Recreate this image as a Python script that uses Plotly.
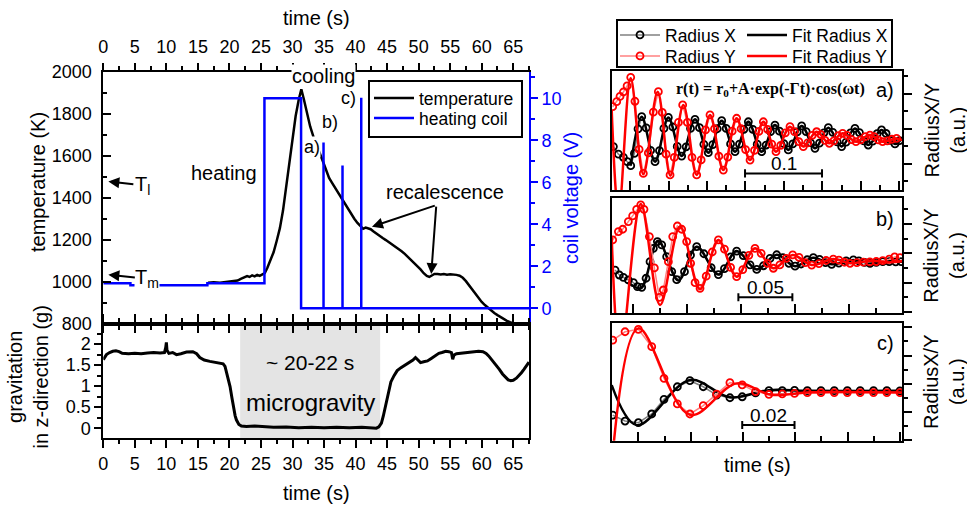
import plotly.graph_objects as go

W, H = 967, 505
SANS = "Liberation Sans, Arial, sans-serif"
SERIF = "Liberation Serif, Times New Roman, serif"

# ---------------- left panels: data ----------------
temp_time = [16.6, 17.5, 18.5, 19.5, 20.5, 21.3, 21.8, 22.3, 22.8, 23.2, 23.6, 24.0, 24.4, 24.8, 25.2, 25.6,
             26.0, 26.5, 27.0, 27.5, 28.0, 28.5, 29.0, 29.5, 30.0, 30.5, 31.0, 31.4, 31.8, 32.3, 32.8, 33.3,
             33.8, 34.3, 34.8, 35.3, 35.8, 36.3, 36.8, 37.3, 37.8, 38.3, 38.8, 39.3, 39.8, 40.3, 40.8, 41.2,
             41.6, 42.0, 42.4, 42.8, 43.3, 43.8, 44.3, 44.8, 45.3, 45.8, 46.3, 46.8, 47.3, 47.8, 48.3, 48.8,
             49.3, 49.8, 50.3, 50.8, 51.3, 51.7, 52.1, 52.5, 53.0, 53.5, 54.0, 54.5, 55.0, 55.5, 56.0, 56.5,
             57.0, 57.5, 58.0, 58.5, 59.0, 59.5, 60.0, 60.5, 61.0, 61.5, 62.0, 62.5, 63.0, 63.5, 64.0, 64.5,
             65.0, 65.3]
temp_K = [995, 997, 995, 998, 1000, 1005, 1013, 1020, 1026, 1022, 1030, 1025, 1032, 1027, 1033, 1040,
          1065, 1100, 1140, 1195, 1255, 1340, 1450, 1570, 1690, 1790, 1870, 1918, 1870, 1800, 1740, 1693,
          1650, 1610, 1575, 1535, 1495, 1470, 1445, 1420, 1395, 1368, 1345, 1320, 1300, 1280, 1262, 1252,
          1258, 1255, 1250, 1240, 1228, 1218, 1208, 1198, 1188, 1175, 1165, 1155, 1145, 1132, 1118, 1104,
          1090, 1074, 1058, 1040, 1027, 1022, 1028, 1036, 1036, 1034, 1036, 1033, 1035, 1034, 1032, 1028,
          1018, 1002, 982, 958, 938, 920, 903, 888, 874, 862, 850, 840, 830, 821, 813, 806,
          800, 796]

coil_time = [0, 4.3, 4.3, 16.5, 16.5, 25.55, 25.55, 31.36, 31.36, 34.92, 34.92, 34.92, 37.93, 37.93, 37.93,
             40.9, 40.9, 40.9, 67.5]
coil_V = [1.19, 1.19, 1.1, 1.1, 1.19, 1.19, 10.0, 10.0, 0.0, 0.0, 7.9, 0.0, 0.0, 6.8, 0.0,
          0.0, 10.03, 0.0, 0.0]

grav_time = [0.0, 0.5, 1.0, 1.5, 2.0, 2.5, 3.0, 4.0, 5.0, 6.0, 7.0, 8.0, 9.0, 9.7, 9.9, 10.0, 10.1, 10.4,
             11.0, 11.6, 12.3, 13.2, 14.2, 14.8, 15.3, 16.0, 16.9, 17.7, 18.5, 19.0, 19.3, 19.6, 19.9, 20.1,
             20.4, 20.6, 20.9, 21.1, 21.5, 21.9, 22.7, 24.0, 25.5, 27.0, 29.0, 31.0, 33.0, 35.0, 37.0, 39.0,
             41.0, 42.5, 43.3, 43.7, 44.1, 44.4, 44.8, 45.2, 45.6, 46.1, 46.6, 47.2, 47.9, 48.6, 49.1, 49.5,
             49.9, 50.3, 50.8, 51.4, 52.0, 52.6, 53.2, 53.7, 54.3, 54.8, 55.2, 55.4, 55.6, 56.0, 57.1, 58.0,
             58.8, 59.5, 60.2, 60.7, 61.1, 61.6, 62.2, 62.8, 63.3, 63.8, 64.2, 64.6, 65.0, 65.5, 65.9, 66.3,
             66.7, 67.1, 67.5]
grav_g = [1.63, 1.75, 1.80, 1.83, 1.84, 1.82, 1.78, 1.77, 1.78, 1.77, 1.79, 1.80, 1.79, 1.80, 1.92, 2.04, 1.85, 1.78,
          1.80, 1.75, 1.77, 1.81, 1.82, 1.77, 1.68, 1.62, 1.59, 1.57, 1.55, 1.53, 1.47, 1.30, 1.10, 0.99,
          0.72, 0.51, 0.30, 0.20, 0.09, 0.05, 0.04, 0.05, 0.03, 0.02, 0.03, 0.01, 0.02, 0.01, 0.02, 0.01,
          0.02, 0.01, 0.00, 0.03, 0.12, 0.29, 0.58, 0.85, 1.10, 1.25, 1.37, 1.44, 1.51, 1.56, 1.62, 1.68,
          1.62, 1.56, 1.58, 1.60, 1.66, 1.72, 1.78, 1.80, 1.83, 1.82, 1.80, 1.64, 1.74, 1.77, 1.79, 1.81,
          1.83, 1.83, 1.82, 1.78, 1.72, 1.63, 1.52, 1.40, 1.29, 1.20, 1.15, 1.13, 1.14, 1.19, 1.25, 1.32,
          1.40, 1.50, 1.57]

micro_window = [21.7, 43.9]
T_liquidus = 1478
T_melt = 1033

# ---------------- right panels: data (time in s, radius in a.u.) ----------------
a_rx_t = [0.0022, 0.0087, 0.0152, 0.0203, 0.0247, 0.0295, 0.0342, 0.0390, 0.0448, 0.0505, 0.0563, 0.0621,
          0.0678, 0.0736, 0.0794, 0.0851, 0.0909, 0.0967, 0.1024, 0.1082, 0.1140, 0.1197, 0.1255, 0.1313,
          0.1371, 0.1429, 0.1487, 0.1544, 0.1602, 0.1660, 0.1717, 0.1775, 0.1833, 0.1890, 0.1948, 0.2006,
          0.2063, 0.2121, 0.2179, 0.2236, 0.2294, 0.2352, 0.2410, 0.2468, 0.2526, 0.2583, 0.2641, 0.2699,
          0.2756, 0.2814, 0.2872, 0.2929, 0.2987, 0.3045, 0.3102, 0.3160, 0.3218, 0.3275, 0.3333, 0.3391,
          0.3448, 0.3506, 0.3564, 0.3622, 0.3680, 0.3738]
a_rx = [1.98, 1.55, 1.37, 1.12, 0.89, 1.59, 2.99, 3.69, 3.05, 1.76, 1.12, 1.75,
        3.02, 3.65, 3.10, 1.99, 1.44, 1.97, 3.02, 3.54, 3.06, 2.11, 1.63, 2.09,
        3.00, 3.46, 3.02, 2.13, 1.69, 2.12, 2.97, 3.40, 2.97, 2.12, 1.69, 2.07,
        2.83, 3.21, 2.86, 2.15, 1.79, 2.13, 2.82, 3.16, 2.84, 2.20, 1.88, 2.18,
        2.77, 3.06, 2.79, 2.25, 1.98, 2.24, 2.76, 3.02, 2.78, 2.31, 2.07, 2.29,
        2.72, 2.93, 2.73, 2.33, 2.13, 2.32]
a_ry_t = [0.0013, 0.0065, 0.0108, 0.0152, 0.0200, 0.0247, 0.0302, 0.0356, 0.0411, 0.0476, 0.0541, 0.0606,
          0.0657, 0.0707, 0.0758, 0.0813, 0.0867, 0.0922, 0.0983, 0.1043, 0.1104, 0.1162, 0.1219, 0.1277,
          0.1335, 0.1392, 0.1450, 0.1508, 0.1565, 0.1623, 0.1681, 0.1739, 0.1797, 0.1855, 0.1912, 0.1970,
          0.2025, 0.2079, 0.2134, 0.2195, 0.2255, 0.2316, 0.2374, 0.2431, 0.2489, 0.2547, 0.2604, 0.2662,
          0.2717, 0.2772, 0.2827, 0.2885, 0.2942, 0.3000, 0.3058, 0.3115, 0.3173, 0.3234, 0.3294, 0.3355,
          0.3410, 0.3464, 0.3519, 0.3580, 0.3640, 0.3701]
a_ry = [4.26, 4.55, 4.85, 5.10, 5.45, 5.94, 4.57, 1.82, 0.45, 1.62, 3.95, 5.12,
        3.93, 1.55, 0.36, 1.36, 3.36, 4.36, 3.36, 1.36, 0.36, 1.22, 2.93, 3.79,
        3.00, 1.43, 0.64, 1.38, 2.86, 3.60, 3.00, 1.81, 1.21, 1.76, 2.85, 3.40,
        2.97, 2.12, 1.69, 2.05, 2.76, 3.12, 2.84, 2.27, 1.98, 2.19, 2.62, 2.83,
        2.67, 2.33, 2.17, 2.31, 2.60, 2.74, 2.62, 2.38, 2.26, 2.36, 2.55, 2.64,
        2.55, 2.36, 2.26, 2.31, 2.40, 2.45]
a_fx_t = [0.0247, 0.0390, 0.0563, 0.0736, 0.0909, 0.1082, 0.1255, 0.1429, 0.1602, 0.1775, 0.1948, 0.2121,
          0.2294, 0.2468, 0.2641, 0.2814, 0.2987, 0.3160, 0.3333, 0.3506, 0.3680, 0.3775]
a_fx = [0.89, 3.69, 1.12, 3.65, 1.44, 3.54, 1.63, 3.46, 1.69, 3.40, 1.69, 3.21,
        1.79, 3.16, 1.88, 3.06, 1.98, 3.02, 2.07, 2.93, 2.13, 2.50]
a_fy_t = [0.0, 0.0091, 0.0247, 0.0411, 0.0597, 0.0762, 0.0931, 0.1104, 0.1277, 0.1450, 0.1623, 0.1797,
          0.1970, 0.2134, 0.2316, 0.2489, 0.2662, 0.2827, 0.3000, 0.3173, 0.3355, 0.3519, 0.3701, 0.3775]
a_fy = [4.07, -1.83, 5.88, 0.40, 5.12, 0.32, 4.36, 0.36, 3.79, 0.64, 3.60, 1.21,
        3.40, 1.69, 3.12, 1.98, 2.83, 2.17, 2.74, 2.26, 2.64, 2.26, 2.45, 2.35]

b_rx_t = [0.0031, 0.0071, 0.0108, 0.0154, 0.0201, 0.0238, 0.0278, 0.0318, 0.0355, 0.0386, 0.0423, 0.0463,
          0.0509, 0.0556, 0.0602, 0.0674, 0.0730, 0.0787, 0.0854, 0.0921, 0.0988, 0.1044, 0.1101, 0.1157,
          0.1219, 0.1281, 0.1343, 0.1405, 0.1466, 0.1528, 0.1585, 0.1641, 0.1698, 0.1754, 0.1810, 0.1867,
          0.1924, 0.1980, 0.2037, 0.2104, 0.2171, 0.2238, 0.2289, 0.2341, 0.2392, 0.2450, 0.2510, 0.2570,
          0.2630, 0.2680]
b_rx = [2.86, 2.52, 2.36, 2.18, 2.00, 1.73, 1.68, 2.30, 3.43, 4.34, 4.80, 4.57,
        3.77, 2.75, 2.20, 2.75, 3.88, 4.45, 3.97, 3.03, 2.55, 2.95, 3.75, 4.15,
        3.84, 3.21, 2.90, 3.15, 3.65, 3.90, 3.71, 3.32, 3.12, 3.27, 3.56, 3.70,
        3.59, 3.36, 3.25, 3.33, 3.48, 3.55, 3.49, 3.38, 3.32, 3.38, 3.43, 3.43,
        3.42, 3.43]
b_ry_t = [0.0009, 0.0062, 0.0102, 0.0154, 0.0194, 0.0231, 0.0269, 0.0299, 0.0349, 0.0395, 0.0441, 0.0478,
          0.0525, 0.0565, 0.0608, 0.0648, 0.0694, 0.0731, 0.0772, 0.0818, 0.0875, 0.0931, 0.0988, 0.1044,
          0.1101, 0.1157, 0.1214, 0.1270, 0.1327, 0.1384, 0.1440, 0.1497, 0.1557, 0.1616, 0.1676, 0.1735,
          0.1793, 0.1852, 0.1919, 0.1985, 0.2052, 0.2104, 0.2155, 0.2207, 0.2270, 0.2330, 0.2390, 0.2450,
          0.2510, 0.2570, 0.2620, 0.2670]
b_ry = [4.91, 5.48, 5.64, 6.16, 6.55, 7.00, 7.30, 7.00, 5.14, 3.00, 1.00, 1.50,
        3.43, 5.14, 5.86, 5.64, 4.80, 3.32, 2.00, 1.61, 2.44, 4.09, 4.91, 4.29,
        3.04, 2.41, 2.89, 3.86, 4.34, 4.00, 3.32, 2.98, 3.21, 3.66, 3.89, 3.72,
        3.37, 3.20, 3.30, 3.51, 3.61, 3.54, 3.39, 3.32, 3.36, 3.40, 3.42, 3.44,
        3.50, 3.60, 3.75, 3.70]
b_fx_t = [0.0150, 0.0270, 0.0430, 0.0617, 0.0787, 0.0988, 0.1157, 0.1343, 0.1528, 0.1698, 0.1867, 0.2037,
          0.2238, 0.2392, 0.2550, 0.2691]
b_fx = [2.05, 1.62, 4.85, 2.15, 4.45, 2.55, 4.15, 2.90, 3.90, 3.12, 3.70, 3.25, 3.55, 3.32, 3.45, 3.42]
b_fy_t = [0.0000, 0.0080, 0.0269, 0.0448, 0.0633, 0.0818, 0.0988, 0.1157, 0.1327, 0.1497, 0.1676, 0.1852,
          0.2052, 0.2207, 0.2400, 0.2560, 0.2691]
b_fy = [5.10, -3.00, 7.36, 0.48, 5.82, 1.55, 4.91, 2.41, 4.34, 2.98, 3.89, 3.20, 3.61, 3.32, 3.50, 3.38, 3.45]

c_t = [0.0004, 0.0051, 0.0102, 0.0153, 0.0200, 0.0251, 0.0299, 0.0350, 0.0401, 0.0452, 0.0499, 0.0550,
       0.0601, 0.0652, 0.0699, 0.0748, 0.0800, 0.0851, 0.0901, 0.0950, 0.1001, 0.1052, 0.1102]
c_rx = [1.78, 1.36, 1.24, 1.86, 2.90, 3.79, 4.22, 3.79, 3.20, 3.01, 3.08, 3.35,
        3.51, 3.51, 3.53, 3.52, 3.51, 3.51, 3.51, 3.51, 3.51, 3.51, 3.50]
c_ry = [7.10, 7.69, 7.86, 6.63, 4.39, 2.57, 1.86, 2.45, 3.27, 4.08, 3.92, 3.45,
        3.25, 3.28, 3.32, 3.37, 3.38, 3.38, 3.38, 3.38, 3.38, 3.38, 3.38]
c_fx_t = [0.0000, 0.0096, 0.0299, 0.0452, 0.0600, 0.0750, 0.1111]
c_fx = [3.91, 1.07, 4.27, 3.04, 3.55, 3.50, 3.50]
c_fy_t = [0.0008, 0.0102, 0.0299, 0.0478, 0.0610, 0.0760, 0.1111]
c_fy = [-0.20, 7.93, 1.80, 4.03, 3.22, 3.40, 3.38]

# scale bars: (start time, length, label)
scale_a = (0.1732, 0.1, "0.1")
scale_b = (0.1173, 0.05, "0.05")
scale_c = (0.0499, 0.02, "0.02")


def fx(p):
    return p / W


def fy(p):
    return 1 - p / H


fig = go.Figure()

# ---------------- left traces ----------------
fig.add_trace(go.Scatter(x=temp_time, y=temp_K, mode="lines", name="temperature",
                         line=dict(color="black", width=2.5), xaxis="x", yaxis="y", legend="legend"))
fig.add_trace(go.Scatter(x=coil_time, y=coil_V, mode="lines", name="heating coil",
                         line=dict(color="#0000ff", width=2.5), xaxis="x", yaxis="y2", legend="legend4"))
fig.add_trace(go.Scatter(x=grav_time, y=grav_g, mode="lines", showlegend=False,
                         line=dict(color="black", width=3), xaxis="x2", yaxis="y3"))

# ---------------- right traces ----------------
panels = [
    ("x3", "y4", a_rx_t, a_rx, a_ry_t, a_ry, a_fx_t, a_fx, a_fy_t, a_fy),
    ("x4", "y5", b_rx_t, b_rx, b_ry_t, b_ry, b_fx_t, b_fx, b_fy_t, b_fy),
    ("x5", "y6", c_t, c_rx, c_t, c_ry, c_fx_t, c_fx, c_fy_t, c_fy),
]
for i, (xa, ya, rxt, rx, ryt, ry, fxt, fxv, fyt, fyv) in enumerate(panels):
    show = i == 0
    fig.add_trace(go.Scatter(x=rxt, y=rx, mode="lines+markers", name="Radius X", showlegend=show,
                             line=dict(color="#808080", width=1.5),
                             marker=dict(symbol="circle-open", size=7, color="black", line=dict(width=1.8)),
                             xaxis=xa, yaxis=ya, legend="legend2"))
    fig.add_trace(go.Scatter(x=fxt, y=fxv, mode="lines", name="Fit Radius X", showlegend=show,
                             line=dict(color="black", width=2.5, shape="spline", smoothing=1.0),
                             xaxis=xa, yaxis=ya, legend="legend5"))
    fig.add_trace(go.Scatter(x=ryt, y=ry, mode="lines+markers", name="Radius Y", showlegend=show,
                             line=dict(color="#ff8080", width=1.5),
                             marker=dict(symbol="circle-open", size=7, color="#ff0000", line=dict(width=1.8)),
                             xaxis=xa, yaxis=ya, legend="legend3"))
    fig.add_trace(go.Scatter(x=fyt, y=fyv, mode="lines", name="Fit Radius Y", showlegend=show,
                             line=dict(color="#ff0000", width=2.5, shape="spline", smoothing=1.0),
                             xaxis=xa, yaxis=ya, legend="legend6"))

# ---------------- axes ----------------
base = dict(showline=True, linecolor="black", linewidth=2, showgrid=False, zeroline=False,
            automargin=False, tickcolor="black", tickwidth=2,
            tickfont=dict(size=18, family=SANS, color="black"))

LX = [fx(103.3), fx(529)]
layout = dict(
    width=W, height=H, margin=dict(l=0, r=0, t=0, b=0, autoexpand=False),
    paper_bgcolor="white", plot_bgcolor="rgba(0,0,0,0)",
    font=dict(family=SANS, size=18, color="black"),
    xaxis=dict(base, domain=LX, anchor="y", side="top", range=[0, 67.5], tick0=0, dtick=5,
               ticks="outside", ticklen=7, mirror="ticks", ticklabelstandoff=3,
               minor=dict(tick0=0, dtick=2.5, ticks="outside", ticklen=4, tickwidth=2, tickcolor="black")),
    yaxis=dict(base, domain=[fy(323.5), fy(72)], anchor="x", range=[800, 2000], tick0=800, dtick=200,
               ticks="inside", ticklen=8, ticklabelstandoff=6,
               minor=dict(dtick=100, ticks="inside", ticklen=4, tickwidth=2, tickcolor="black")),
    yaxis2=dict(base, overlaying="y", side="right", anchor="x", range=[-0.72, 11.25], tick0=0, dtick=2,
                ticks="outside", ticklen=7, linecolor="#0000ff", tickcolor="#0000ff",
                tickfont=dict(size=18, family=SANS, color="#0000ff"),
                minor=dict(tick0=0, dtick=1, ticks="outside", ticklen=4, tickwidth=2, tickcolor="#0000ff")),
    xaxis2=dict(base, domain=LX, anchor="y3", side="bottom", range=[0, 67.5], tick0=0, dtick=5,
                ticks="outside", ticklen=8, mirror="ticks",
                minor=dict(tick0=0, dtick=2.5, ticks="outside", ticklen=4, tickwidth=2, tickcolor="black")),
    yaxis3=dict(base, domain=[fy(438.3), fy(323.5)], anchor="x2", range=[-0.24, 2.49], tick0=0, dtick=0.5,
                ticks="outside", ticklen=7, mirror=True,
                minor=dict(tick0=0, dtick=0.25, ticks="outside", ticklen=4, tickwidth=2, tickcolor="black")),
    yaxis7=dict(overlaying="y3", side="right", anchor="x2", range=[-0.24, 2.49], tick0=0, dtick=0.5,
                showline=False, showgrid=False, zeroline=False, showticklabels=False, automargin=False,
                ticks="inside", ticklen=7, tickwidth=2, tickcolor="black",
                minor=dict(tick0=0, dtick=0.25, ticks="inside", ticklen=4, tickwidth=2, tickcolor="black")),
)

RX = [fx(611.7), fx(902.3)]
right_specs = [
    ("xaxis3", "yaxis4", "x3", "y4", [fy(190), fy(71)], [0, 0.3775], 0.0238, 0.05, [-0.5, 6.3], 1),
    ("xaxis4", "yaxis5", "x4", "y5", [fy(313.3), fy(198.3)], [0, 0.2691], 0.0201, 0.05, [-0.09, 7.75], 0),
    ("xaxis5", "yaxis6", "x5", "y6", [fy(440.7), fy(323.3)], [0, 0.1111], 0.0102, 0.02, [-0.035, 8.29], 0),
]
for xk, yk, xa, ya, dom, xr, t0, dt, yr, y0 in right_specs:
    layout[xk] = dict(base, domain=RX, anchor=ya, range=xr, mirror=True, showticklabels=False,
                      ticks="inside", ticklen=9, tick0=t0, dtick=dt,
                      minor=dict(tick0=t0, dtick=dt / 2, ticks="inside", ticklen=5, tickwidth=2,
                                 tickcolor="black"))
    layout[yk] = dict(base, domain=dom, anchor=xa, side="right", range=yr, mirror=True,
                      showticklabels=False, ticks="outside", ticklen=8, tick0=y0, dtick=2,
                      minor=dict(tick0=0, dtick=1, ticks="outside", ticklen=4, tickwidth=2,
                                 tickcolor="black"))

# ---------------- legends (one entry each, boxes drawn as shapes) ----------------
leg_common = dict(xanchor="left", yanchor="top", bgcolor="rgba(0,0,0,0)", borderwidth=0,
                  font=dict(size=17.5, family=SANS), itemwidth=40)
layout["legend"] = dict(leg_common, x=fx(369), y=fy(80))
layout["legend4"] = dict(leg_common, x=fx(369), y=fy(100))
layout["legend2"] = dict(leg_common, x=fx(615), y=fy(17))
layout["legend5"] = dict(leg_common, x=fx(742), y=fy(17))
layout["legend3"] = dict(leg_common, x=fx(615), y=fy(38))
layout["legend6"] = dict(leg_common, x=fx(742), y=fy(38))

# ---------------- shapes ----------------
shapes = [
    dict(type="rect", xref="x2", yref="y3 domain", x0=micro_window[0], x1=micro_window[1], y0=0, y1=1,
         fillcolor="#e4e4e4", line=dict(width=0), layer="below"),
    dict(type="rect", xref="paper", yref="paper", x0=fx(617), x1=fx(892), y0=fy(67), y1=fy(20),
         line=dict(color="black", width=2), fillcolor="rgba(0,0,0,0)"),
    dict(type="rect", xref="paper", yref="paper", x0=fx(369), x1=fx(522), y0=fy(137), y1=fy(81),
         line=dict(color="black", width=2), fillcolor="rgba(0,0,0,0)"),
]
annotations = []

bar_specs = [("x3", "y4", scale_a, 0.45, 0.23), ("x4", "y5", scale_b, 1.0, 0.27), ("x5", "y6", scale_c, 1.08, 0.28)]
for xa, ya, (t0, L, lab), yb, cap in bar_specs:
    shapes.append(dict(type="line", xref=xa, yref=ya, x0=t0, x1=t0 + L, y0=yb, y1=yb,
                       line=dict(color="black", width=2)))
    for xe in (t0, t0 + L):
        shapes.append(dict(type="line", xref=xa, yref=ya, x0=xe, x1=xe, y0=yb - cap, y1=yb + cap,
                           line=dict(color="black", width=2)))
    annotations.append(dict(x=t0 + L / 2, y=yb, xref=xa, yref=ya, text=lab, showarrow=False,
                            yanchor="bottom", yshift=-3, font=dict(size=19, family=SANS)))


def text_ann(x, y, text, size=20, color="black", angle=0, bg=None, family=SANS):
    d = dict(x=fx(x), y=fy(y), xref="paper", yref="paper", text=text, showarrow=False,
             font=dict(size=size, color=color, family=family), textangle=angle,
             xanchor="center", yanchor="middle")
    if bg:
        d["bgcolor"] = bg
        d["borderpad"] = 0
    annotations.append(d)


text_ann(316, 18, "time (s)")
text_ann(38, 182, "temperature (K)", angle=-90)
text_ann(571, 198, "coil voltage (V)", color="#0000ff", angle=-90)
text_ann(27.5, 377, "gravitation<br>in z-direction (g)", angle=-90)
text_ann(316, 493, "time (s)")
text_ann(757, 465, "time (s)")
for yc in (130.5, 255.8, 382):
    text_ann(944, yc, "RadiusX/Y<br>(a.u.)", angle=-90)
text_ann(323, 76, "cooling", bg="white")
text_ann(224, 173, "heating")
text_ann(312, 147, "a)", size=18, bg="white")
text_ann(330, 122, "b)", size=18, bg="white")
text_ann(348, 98, "c)", size=18, bg="white")
text_ann(445, 192, "recalescence")
text_ann(310, 362, "~ 20-22 s", size=21)
text_ann(310, 402, "microgravity", size=24)
text_ann(770, 90, "<b>r(t) = r<sub>0</sub>+A·exp(-Γt)·cos(ωt)</b>", size=16, family=SERIF)
text_ann(885, 90, "a)")
text_ann(885, 219, "b)")
text_ann(885, 343, "c)")

arrow_style = dict(showarrow=True, arrowhead=2, arrowsize=1.1, arrowwidth=2, arrowcolor="black")
annotations.append(dict(x=0.8, y=T_liquidus, xref="x", yref="y", text="T<sub>l</sub>", ax=34, ay=4,
                        font=dict(size=20, family=SANS), standoff=0, **arrow_style))
annotations.append(dict(x=0.8, y=T_melt, xref="x", yref="y", text="T<sub>m</sub>", ax=39, ay=4,
                        font=dict(size=20, family=SANS), bgcolor="white", borderpad=0, standoff=0,
                        **arrow_style))
for hx, hy in ((42.6, 1262), (52.0, 1036)):
    annotations.append(dict(x=hx, y=hy, xref="x", yref="y", ax=52.8, ay=1365, axref="x", ayref="y",
                            text="", **arrow_style))

layout["shapes"] = shapes
layout["annotations"] = annotations
fig.update_layout(**layout)
fig.write_html("out.html", config={"displayModeBar": False},
               post_script="document.body.style.margin='0px';")
